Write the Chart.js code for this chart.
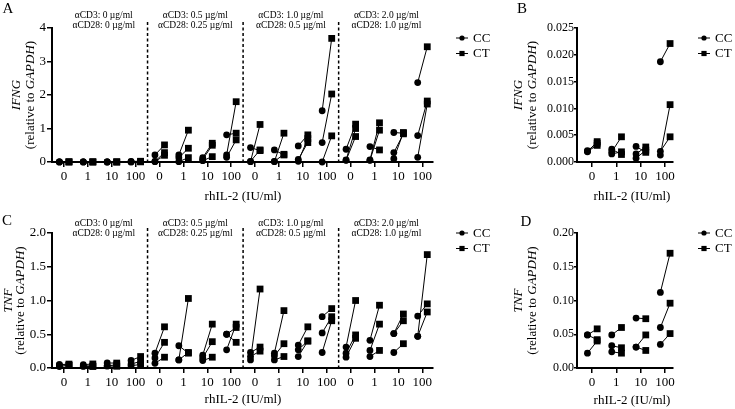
<!DOCTYPE html>
<html>
<head>
<meta charset="utf-8">
<script src="https://cdn.jsdelivr.net/npm/chart.js@4.4.1/dist/chart.umd.min.js"></script>
<style>
  body { margin: 0; background: #fff; width: 735px; height: 409px; overflow: hidden; }
  canvas { position: absolute; left: 0; top: 0; }
</style>
</head>
<body>
<canvas id="cA" width="735" height="409"></canvas>
<canvas id="cB" width="735" height="409"></canvas>
<canvas id="cC" width="735" height="409"></canvas>
<canvas id="cD" width="735" height="409"></canvas>
<script>
const doses = ["0", "1", "10", "100"];
const stimLabels = [
  ["αCD3: 0 µg/ml", "αCD28: 0 µg/ml"],
  ["αCD3: 0.5 µg/ml", "αCD28: 0.25 µg/ml"],
  ["αCD3: 1.0 µg/ml", "αCD28: 0.5 µg/ml"],
  ["αCD3: 2.0 µg/ml", "αCD28: 1.0 µg/ml"]
];
const seriesNames = ["CC", "CT"];

// unstimulated only (panels B and D), one row per rhIL-2 dose, one value per donor
const ifngLowCC = [[0.0019, 0.0020, 0.0021], [0.0024, 0.0019, 0.0015], [0.0029, 0.0015, 0.0007], [0.0187, 0.0013, 0.0020]];
const ifngLowCT = [[0.0038, 0.0031, 0.0035], [0.0014, 0.0047, 0.0019], [0.0018, 0.0028, 0.0022], [0.0221, 0.0107, 0.0047]];
const tnfLowCC = [[0.049, 0.049, 0.022], [0.049, 0.033, 0.024], [0.074, 0.031, 0.031], [0.112, 0.060, 0.035]];
const tnfLowCT = [[0.058, 0.042, 0.040], [0.060, 0.030, 0.022], [0.073, 0.049, 0.026], [0.170, 0.096, 0.051]];

// all stimulations (panels A and C), first block is the unstimulated data above
const ifngCC = [...ifngLowCC,
  [0.21, 0.02, 0.01], [0.21, 0.13, 0.01], [0.13, 0.08, 0.04], [0.81, 0.21, 0.14],
  [0.43, 0.01, 0.02], [0.36, 0.01, 0.02], [0.48, 0.08, 0.02], [1.53, 0.58, 0.00],
  [0.38, 0.06, 0.05], [0.46, 0.06, 0.05], [0.88, 0.28, 0.10], [2.37, 0.79, 0.14]];
const ifngCT = [...ifngLowCT,
  [0.51, 0.28, 0.20], [0.95, 0.41, 0.13], [0.56, 0.50, 0.16], [0.86, 1.80, 0.66],
  [0.34, 1.12, 0.36], [0.21, 0.86, 0.23], [0.81, 0.58, 0.70], [3.69, 2.03, 0.78],
  [1.13, 1.00, 0.76], [0.36, 1.17, 0.95], [0.86, 0.84, 0.88], [3.44, 1.82, 1.73]];
const tnfCC = [...tnfLowCC,
  [0.22, 0.15, 0.07], [0.33, 0.12, 0.12], [0.19, 0.15, 0.11], [0.50, 0.27, 0.50],
  [0.12, 0.23, 0.17], [0.22, 0.18, 0.12], [0.34, 0.27, 0.17], [0.76, 0.52, 0.23],
  [0.31, 0.22, 0.16], [0.41, 0.26, 0.17], [0.51, 0.51, 0.23], [0.77, 0.47, 0.47]];
const tnfCT = [...tnfLowCT,
  [0.61, 0.38, 0.16], [0.22, 1.03, 0.23], [0.65, 0.39, 0.16], [0.38, 0.65, 0.60],
  [1.17, 0.31, 0.25], [0.85, 0.36, 0.17], [0.61, 0.40, 0.40], [0.88, 0.76, 0.70],
  [1.00, 0.49, 0.44], [0.93, 0.65, 0.26], [0.80, 0.70, 0.36], [0.95, 1.68, 0.83]];

const ifngTicks = [0, 1, 2, 3, 4];
const ifngLowTicks = [0, 0.005, 0.01, 0.015, 0.02, 0.025];
const tnfTicks = [0, 0.5, 1, 1.5, 2];
const tnfLowTicks = [0, 0.05, 0.1, 0.15, 0.2];

const SERIF = '"Liberation Serif", "DejaVu Serif", serif';
const CC_OFF = -0.19, CT_OFF = 0.21;

function buildData(cc, ct) {
  const circ = [], sq = [], pairs = [];
  cc.forEach((vals, i) => {
    vals.forEach((v, j) => {
      const w = ct[i][j];
      circ.push({ x: i + CC_OFF, y: v });
      sq.push({ x: i + CT_OFF, y: w });
      pairs.push({ x: i + CC_OFF, y: v }, { x: i + CT_OFF, y: w }, { x: i, y: null });
    });
  });
  return { circ, sq, pairs };
}

function rotatedText(ctx, parts, x, y) {
  // parts: [text, italic]
  let total = 0;
  parts.forEach(p => {
    ctx.font = (p[1] ? "italic " : "") + "13px " + SERIF;
    total += ctx.measureText(p[0]).width;
  });
  ctx.save();
  ctx.translate(x, y);
  ctx.rotate(-Math.PI / 2);
  ctx.textAlign = "left";
  ctx.textBaseline = "middle";
  let pos = -total / 2;
  parts.forEach(p => {
    ctx.font = (p[1] ? "italic " : "") + "13px " + SERIF;
    ctx.fillText(p[0], pos, 0);
    pos += ctx.measureText(p[0]).width;
  });
  ctx.restore();
}

function makeDecor(o) {
  return {
    id: "decor",
    afterDraw(chart) {
      const ctx = chart.ctx, xs = chart.scales.x, area = chart.chartArea;
      ctx.save();
      ctx.fillStyle = "#000";
      ctx.strokeStyle = "#000";
      ctx.textAlign = "center";
      ctx.textBaseline = "middle";

      ctx.font = "15px " + SERIF;
      ctx.fillText(o.letter, o.letterX, o.letterY);

      ctx.font = "13px " + SERIF;
      ctx.fillText("rhIL-2 (IU/ml)", o.xTitleX, o.xTitleY);

      const cy = (area.top + area.bottom) / 2;
      rotatedText(ctx, [[o.gene, true]], o.yT1, cy);
      rotatedText(ctx, [["(relative to ", false], ["GAPDH", true], [")", false]], o.yT2, cy);

      if (o.groups) {
        ctx.lineWidth = 1.5;
        ctx.setLineDash([3, 2.5]);
        for (let g = 1; g < stimLabels.length; g++) {
          const px = xs.getPixelForValue(g * doses.length - 0.5);
          ctx.beginPath();
          ctx.moveTo(px, o.dashTop);
          ctx.lineTo(px, area.bottom);
          ctx.stroke();
        }
        ctx.setLineDash([]);
        ctx.font = "9.5px " + SERIF;
        stimLabels.forEach((lab, g) => {
          const px = xs.getPixelForValue(g * doses.length + 1.5) + (g === 0 ? 4 : 0);
          ctx.fillText(lab[0], px, o.labelY);
          ctx.fillText(lab[1], px, o.labelY + 10);
        });
      }

      // legend
      seriesNames.forEach((name, k) => {
        const y = o.legY + k * 15.5;
        ctx.lineWidth = 1;
        ctx.beginPath();
        ctx.moveTo(o.legX - 6, y);
        ctx.lineTo(o.legX + 6, y);
        ctx.stroke();
        if (k === 0) {
          ctx.beginPath();
          ctx.arc(o.legX, y, 2.6, 0, Math.PI * 2);
          ctx.fill();
        } else {
          ctx.fillRect(o.legX - 2.6, y - 2.6, 5.2, 5.2);
        }
        ctx.font = "13px " + SERIF;
        ctx.textAlign = "left";
        ctx.fillText(name, o.legX + 11, y + 0.5);
        ctx.textAlign = "center";
      });
      ctx.restore();
    }
  };
}

function makePanel(id, o) {
  const d = buildData(o.cc, o.ct);
  const font = { family: SERIF, size: 13 };
  new Chart(document.getElementById(id), {
    type: "scatter",
    data: {
      datasets: [
        { label: "CC", data: d.circ, pointStyle: "circle", pointRadius: 3.4,
          pointBackgroundColor: "#000", pointBorderWidth: 0, clip: false },
        { label: "CT", data: d.sq, pointStyle: "rect", pointRadius: 4.8,
          pointBackgroundColor: "#000", pointBorderWidth: 0, clip: false },
        { label: "pairs", data: d.pairs, showLine: true, spanGaps: false, pointRadius: 0,
          borderColor: "#000", borderWidth: 1, clip: false }
      ]
    },
    options: {
      responsive: false,
      animation: false,
      devicePixelRatio: 1,
      events: [],
      layout: { padding: o.pad },
      plugins: { legend: { display: false }, tooltip: { enabled: false } },
      scales: {
        x: {
          type: "linear", min: o.xMin, max: o.xMax,
          afterBuildTicks: s => { s.ticks = o.cc.map((_, i) => ({ value: i })); },
          afterFit: s => { s.height = 30; },
          ticks: { callback: v => doses[v % doses.length], autoSkip: false, maxRotation: 0,
                   color: "#000", font, padding: 2 },
          grid: { drawOnChartArea: false, color: "#000", lineWidth: 1.5, tickLength: 5 },
          border: { color: "#000", width: 2 }
        },
        y: {
          min: 0, max: o.yTicks[o.yTicks.length - 1],
          afterBuildTicks: s => { s.ticks = o.yTicks.map(v => ({ value: v })); },
          afterFit: s => { s.width = 40; },
          ticks: { callback: v => v.toFixed(o.dec), color: "#000",
                   font: { family: SERIF, size: o.yFont }, padding: o.yPad },
          grid: { drawOnChartArea: false, color: "#000", lineWidth: 1.5, tickLength: o.yTick },
          border: { color: "#000", width: 2 }
        }
      }
    },
    plugins: [makeDecor(o)]
  });
}

makePanel("cA", {
  cc: ifngCC, ct: ifngCT, yTicks: ifngTicks, dec: 0, gene: "IFNG", yTick: 5, yPad: 1, yFont: 13,
  xMin: -0.5, xMax: 15.45, pad: { left: 12, right: 302, top: 28, bottom: 217 },
  letter: "A", letterX: 8, letterY: 9, xTitleX: 243, xTitleY: 197, yT1: 17, yT2: 31,
  groups: true, dashTop: 22, labelY: 15, legX: 462, legY: 38
});
makePanel("cB", {
  cc: ifngLowCC, ct: ifngLowCT, yTicks: ifngLowTicks, dec: 3, gene: "IFNG", yTick: 3, yPad: 0, yFont: 12,
  xMin: -0.62, xMax: 3.33, pad: { left: 537, right: 62, top: 28, bottom: 217 },
  letter: "B", letterX: 522, letterY: 9, xTitleX: 632, xTitleY: 197, yT1: 519, yT2: 533,
  groups: false, legX: 704, legY: 38
});
makePanel("cC", {
  cc: tnfCC, ct: tnfCT, yTicks: tnfTicks, dec: 1, gene: "TNF", yTick: 5, yPad: 1, yFont: 13,
  xMin: -0.5, xMax: 15.45, pad: { left: 12, right: 302, top: 233, bottom: 11 },
  letter: "C", letterX: 7, letterY: 221, xTitleX: 243, xTitleY: 400, yT1: 9, yT2: 21,
  groups: true, dashTop: 228, labelY: 223, legX: 462, legY: 233
});
makePanel("cD", {
  cc: tnfLowCC, ct: tnfLowCT, yTicks: tnfLowTicks, dec: 2, gene: "TNF", yTick: 3, yPad: 0, yFont: 12,
  xMin: -0.62, xMax: 3.33, pad: { left: 537, right: 62, top: 233, bottom: 11 },
  letter: "D", letterX: 526, letterY: 222, xTitleX: 632, xTitleY: 401, yT1: 519, yT2: 533,
  groups: false, legX: 704, legY: 233
});
</script>
</body>
</html>
